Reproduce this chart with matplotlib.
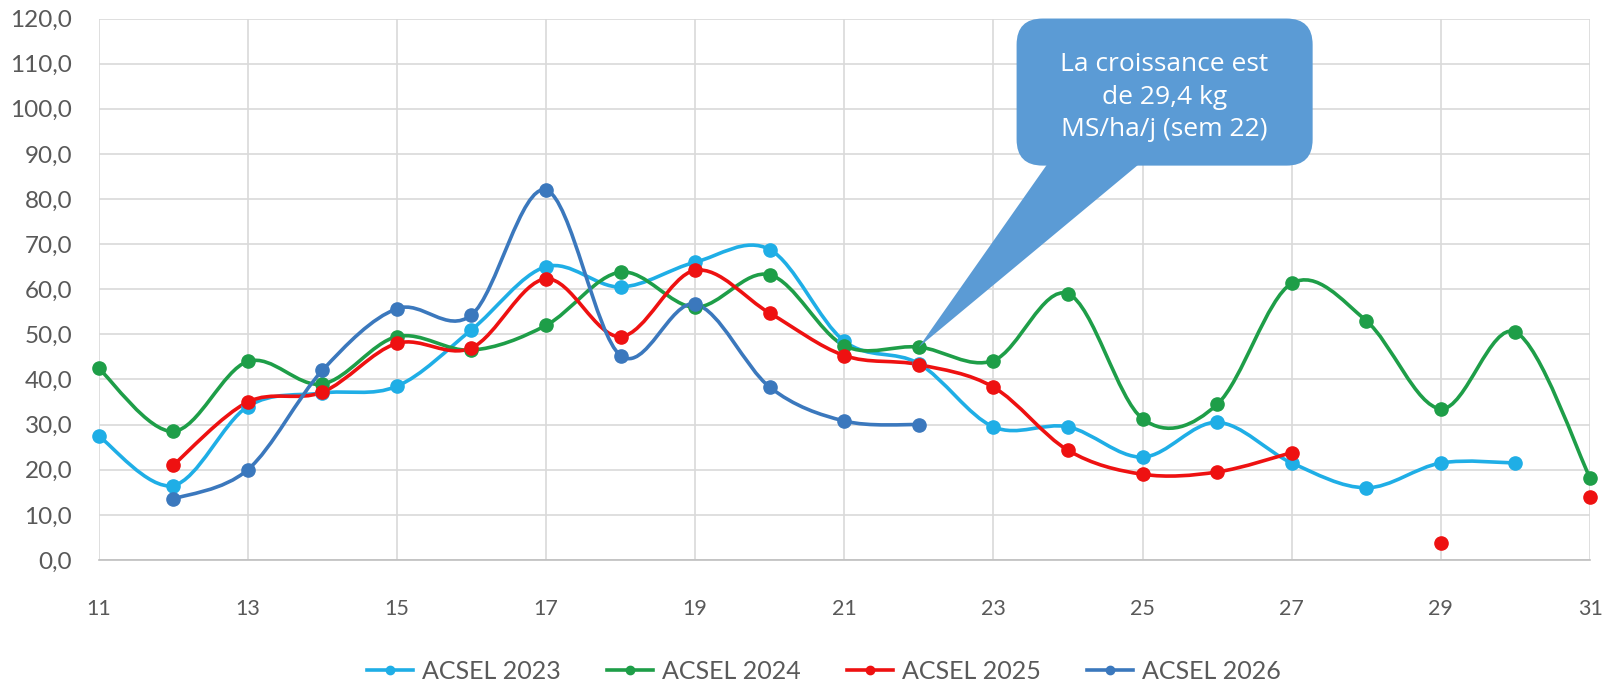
import numpy as np
import matplotlib
matplotlib.use("Agg")
import matplotlib.pyplot as plt
from matplotlib.path import Path
from matplotlib.patches import PathPatch, FancyBboxPatch, Polygon
from matplotlib.lines import Line2D

plt.rcParams['font.family'] = ['Lato', 'DejaVu Sans']

nan = np.nan
weeks = list(range(11, 32))
series_names = ["ACSEL 2023", "ACSEL 2024", "ACSEL 2025", "ACSEL 2026"]
acsel_2023 = [27.5, 16.5, 34.0, 37.0, 38.5, 51.0, 65.0, 60.5, 66.0, 68.8, 48.5,
              43.5, 29.5, 29.5, 22.8, 30.5, 21.5, 16.0, 21.5, 21.5, nan]
acsel_2024 = [42.5, 28.5, 44.0, 39.0, 49.5, 46.5, 52.0, 63.8, 56.0, 63.2, 47.5,
              47.2, 44.2, 59.0, 31.3, 34.5, 61.3, 53.0, 33.5, 50.5, 18.2]
acsel_2025 = [nan, 21.0, 35.0, 37.2, 48.0, 47.0, 62.3, 49.5, 64.2, 54.7, 45.3,
              43.3, 38.3, 24.3, 19.0, 19.5, 23.8, nan, 3.7, nan, 14.0]
acsel_2026 = [nan, 13.5, 20.0, 42.0, 55.7, 54.3, 82.0, 45.3, 56.7, 38.3, 30.8,
              30.0, nan, nan, nan, nan, nan, nan, nan, nan, nan]
colors = ["#1FAEE6", "#1E9E48", "#EE1111", "#3B78BD"]
callout_text = "La croissance est\nde 29,4 kg\nMS/ha/j (sem 22)"
callout_week = 22
callout_value = 47.2

fig = plt.figure(figsize=(16.11, 6.86), dpi=100)
ax = fig.add_axes([0.0612, 0.1837, 0.9258, 0.7893])


def smooth_path(xs, ys):
    pts = np.column_stack([xs, ys])
    n = len(pts)
    verts = [pts[0]]
    codes = [Path.MOVETO]
    for i in range(n - 1):
        p0 = pts[i - 1] if i > 0 else pts[i]
        p1 = pts[i]
        p2 = pts[i + 1]
        p3 = pts[i + 2] if i + 2 < n else pts[i + 1]
        c1 = p1 + (p2 - p0) / 6.0
        c2 = p2 - (p3 - p1) / 6.0
        verts += [c1, c2, p2]
        codes += [Path.CURVE4] * 3
    return Path(verts, codes)


all_series = [acsel_2023, acsel_2024, acsel_2025, acsel_2026]
for name, vals, col in zip(series_names, all_series, colors):
    x = np.array(weeks, dtype=float)
    y = np.array(vals, dtype=float)
    ok = ~np.isnan(y)
    segs = []
    cur = []
    for xi, yi, oi in zip(x, y, ok):
        if oi:
            cur.append((xi, yi))
        else:
            if cur:
                segs.append(cur)
            cur = []
    if cur:
        segs.append(cur)
    for seg in segs:
        if len(seg) > 1:
            sx, sy = zip(*seg)
            ax.add_patch(PathPatch(smooth_path(np.array(sx), np.array(sy)),
                                   facecolor='none', edgecolor=col, lw=2.6,
                                   capstyle='round', joinstyle='round', zorder=3))
    ax.plot(x[ok], y[ok], linestyle='none', marker='o', markersize=9.5,
            color=col, zorder=4, clip_on=False)

ax.set_xlim(11, 31)
ax.set_ylim(0, 120)
ax.set_xticks(range(11, 32, 2))
ax.set_yticks(range(0, 121, 10))
ax.set_yticklabels([f"{v},0" for v in range(0, 121, 10)])
ax.tick_params(axis='both', length=0, colors='#595959')
ax.tick_params(axis='y', pad=19, labelsize=17.5)
ax.tick_params(axis='x', pad=28, labelsize=15.5)
ax.grid(True, color='#D9D9D9', lw=1.2, zorder=0)
for s in ['top', 'right', 'left']:
    ax.spines[s].set_visible(False)
ax.spines['bottom'].set_color('#BFBFBF')
ax.spines['bottom'].set_linewidth(1.2)

# callout
box_x0, box_x1 = 23.31, 27.28
box_y0, box_y1 = 87.4, 120.0
box_col = "#5B9BD5"
tail = Polygon([(23.75, box_y0 + 1), (callout_week, callout_value), (25.0, box_y0 + 1)],
               closed=True, facecolor=box_col, edgecolor='none', zorder=5,
               clip_on=False)
ax.add_patch(tail)
bx = FancyBboxPatch((box_x0, box_y0), box_x1 - box_x0, box_y1 - box_y0,
                    boxstyle="round,pad=0,rounding_size=0.35",
                    mutation_aspect=(120 / 20) * (1491 / 541),
                    facecolor=box_col, edgecolor='none', zorder=5, clip_on=False)
ax.add_patch(bx)
ax.text((box_x0 + box_x1) / 2, 102.6, callout_text,
        ha='center', va='center', color='white', fontsize=19,
        family=['Open Sans', 'DejaVu Sans'], linespacing=1.4, zorder=6)

handles = [Line2D([0], [0], color=c, lw=2.6, marker='o', markersize=6)
           for c in colors]
fig.legend(handles, series_names, loc='center', bbox_to_anchor=(0.5115, 0.021),
           ncol=4, frameon=False, fontsize=18, handlelength=1.85,
           columnspacing=1.85, handletextpad=0.35, labelcolor='#595959',
           borderpad=0)

fig.savefig("out.png", dpi=100)
